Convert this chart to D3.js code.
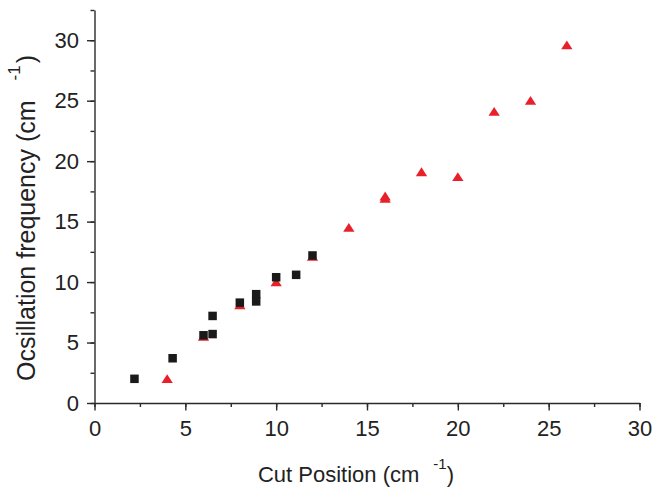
<!DOCTYPE html>
<html><head><meta charset="utf-8">
<script src="https://cdn.jsdelivr.net/npm/d3@7"></script>
<style>body{margin:0;background:#fff}svg{display:block}text{font-family:"Liberation Sans",Arial,sans-serif}</style>
</head><body>
<svg id="c" width="655" height="489"></svg>
<script>
const squareX = [2.2, 4.3, 6.0, 6.5, 6.5, 8.0, 8.9, 8.9, 10.0, 11.1, 12.0];
const squareY = [2.0, 3.7, 5.6, 5.7, 7.2, 8.3, 9.0, 8.4, 10.4, 10.6, 12.2];
const triX = [4, 6, 8, 10, 12, 14, 16, 16, 18, 20, 22, 24, 26];
const triY = [1.9, 5.4, 8.0, 9.9, 12.0, 14.4, 16.8, 17.0, 19.0, 18.6, 24.0, 24.9, 29.5];
const xTicks = [0, 5, 10, 15, 20, 25, 30];
const yTicks = [0, 5, 10, 15, 20, 25, 30];

const svg = d3.select("#c");
const x = d3.scaleLinear().domain([0, 30]).range([94.5, 639.5]);
const y = d3.scaleLinear().domain([0, 32.5]).range([403, 10]);
const axisColor = "#2a2a2a";
const font = "Liberation Sans, Arial, sans-serif";

const minorX = d3.range(0, 30.01, 2.5);
const minorY = d3.range(0, 32.6, 2.5);

// X axis
const gx = svg.append("g").attr("transform", `translate(0,${y(0)})`);
gx.call(d3.axisBottom(x).tickValues(minorX).tickSize(4).tickFormat(""));
gx.call(g => g.select(".domain").remove());
const gx2 = svg.append("g").attr("transform", `translate(0,${y(0)})`);
gx2.call(d3.axisBottom(x).tickValues(xTicks).tickSize(7.5).tickSizeOuter(0).tickPadding(10));
[gx, gx2].forEach(g => {
  g.selectAll("line,path").attr("stroke", axisColor).attr("stroke-width", 1.4);
});
gx2.selectAll("text").attr("font-size", 22).attr("fill", "#222").attr("font-family", font);

// Y axis
const gy = svg.append("g").attr("transform", `translate(${x(0)},0)`);
gy.call(d3.axisLeft(y).tickValues(minorY).tickSize(4).tickFormat(""));
gy.call(g => g.select(".domain").remove());
const gy2 = svg.append("g").attr("transform", `translate(${x(0)},0)`);
gy2.call(d3.axisLeft(y).tickValues(yTicks).tickSize(7.5).tickSizeOuter(0).tickPadding(8));
[gy, gy2].forEach(g => {
  g.selectAll("line,path").attr("stroke", axisColor).attr("stroke-width", 1.4);
});
gy2.selectAll("text").attr("font-size", 22).attr("fill", "#222").attr("font-family", font);

// Triangles
const tri = d3.symbol().type(d3.symbolTriangle).size(50);
svg.append("g").selectAll("path").data(triX.map((v, i) => [v, triY[i]])).join("path")
  .attr("d", tri)
  .attr("transform", d => `translate(${x(d[0])},${y(d[1])}) scale(1.05,0.95)`)
  .attr("fill", "#e8202a");

// Squares
const sq = 8.5;
svg.append("g").selectAll("rect").data(squareX.map((v, i) => [v, squareY[i]])).join("rect")
  .attr("x", d => x(d[0]) - sq / 2).attr("y", d => y(d[1]) - sq / 2)
  .attr("width", sq).attr("height", sq).attr("fill", "#1a1a1a");

// X label
const xl = svg.append("text").attr("x", 356).attr("y", 482).attr("text-anchor", "middle")
  .attr("font-size", 22).attr("fill", "#222");
xl.append("tspan").text("Cut Position (cm");
xl.append("tspan").attr("dx", 14).attr("dy", -13).attr("font-size", 15).text("-1");
xl.append("tspan").attr("dy", 13).text(")");

// Y label
const yl = svg.append("text").attr("transform", "translate(35,218) rotate(-90)").attr("text-anchor", "middle")
  .attr("font-size", 25).attr("fill", "#222");
yl.append("tspan").text("Ocsillation frequency (cm");
yl.append("tspan").attr("dx", 20).attr("dy", -15).attr("font-size", 17).text("-1");
yl.append("tspan").attr("dx", 2).attr("dy", 15).text(")");
</script>
</body></html>
